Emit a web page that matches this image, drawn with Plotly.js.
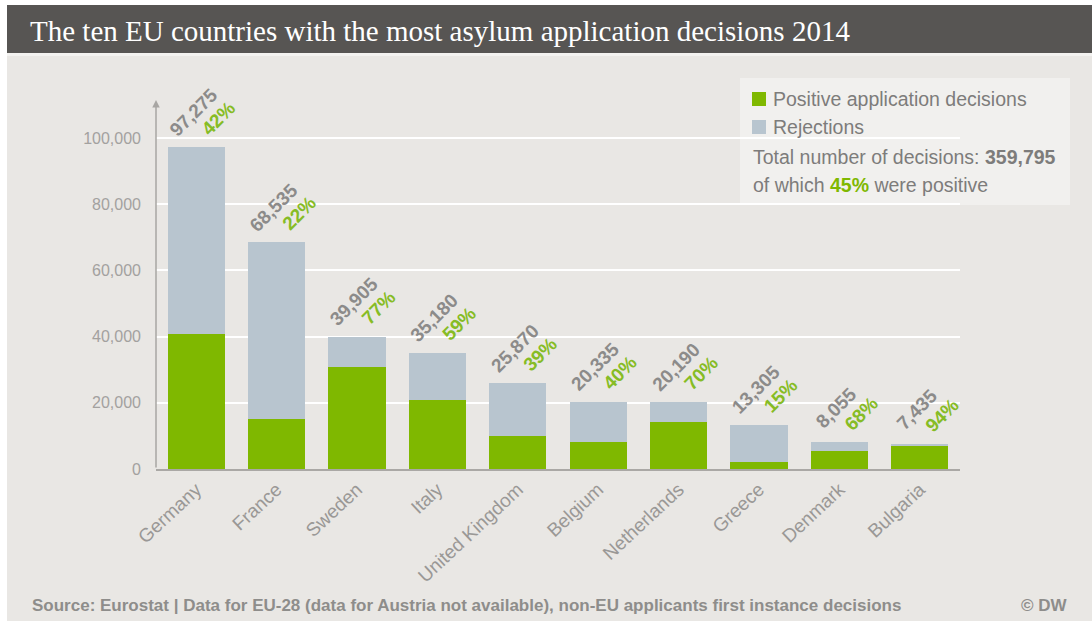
<!DOCTYPE html>
<html>
<head>
<meta charset="utf-8">
<script src="https://cdn.plot.ly/plotly-3.0.1.min.js"></script>
<style>html,body{margin:0;padding:0;background:#fff;}#chart{width:1092px;height:629px;}</style>
</head>
<body>
<div id="chart"></div>
<script>
// ---- data ----
const countries = ["Germany","France","Sweden","Italy","United Kingdom","Belgium","Netherlands","Greece","Denmark","Bulgaria"];
const positive  = [40855, 15080, 30725, 20755, 10090, 8135, 14135, 1995, 5475, 6990];
const rejected  = [56420, 53455, 9180, 14425, 15780, 12200, 6055, 11310, 2580, 445];
const totalLabels = ["97,275","68,535","39,905","35,180","25,870","20,335","20,190","13,305","8,055","7,435"];
const shareLabels = ["42%","22%","77%","59%","39%","40%","70%","15%","68%","94%"];
const totals = [97275, 68535, 39905, 35180, 25870, 20335, 20190, 13305, 8055, 7435];
const yTicks = [0, 20000, 40000, 60000, 80000, 100000];
const seriesNames = ["Positive application decisions", "Rejections"];
const totalDecisions = "359,795";
const totalShare = "45%";

// ---- geometry ----
const W = 1092, H = 629;
const L = 156, R = 132, T = 100, B = 160;
const pw = W - L - R, ph = H - T - B;
const px = x => (x - L) / pw;           // pixel -> paper x
const py = y => (H - B - y) / ph;       // pixel -> paper y

const GREEN = "#7fb800", GREY_BAR = "#b8c5cf", BG = "#e9e7e4";
const FONT = "Liberation Sans, Arial, sans-serif";

const traces = [
  {type: "bar", x: countries, y: positive, name: seriesNames[0], marker: {color: GREEN}, hoverinfo: "x+y+name"},
  {type: "bar", x: countries, y: rejected, name: seriesNames[1], marker: {color: GREY_BAR}, hoverinfo: "x+y+name"}
];

const annotations = [];
countries.forEach((c, i) => {
  annotations.push({
    x: c, y: totals[i], xref: "x", yref: "y",
    text: "<b>" + totalLabels[i] + "</b>",
    showarrow: false, textangle: -45,
    xanchor: "center", yanchor: "middle", xshift: -3, yshift: 35,
    font: {family: FONT, size: 19, color: "#8c8b8a"}
  });
  annotations.push({
    x: c, y: totals[i], xref: "x", yref: "y",
    text: "<b>" + shareLabels[i] + "</b>",
    showarrow: false, textangle: -45,
    xanchor: "center", yanchor: "middle", xshift: 22, yshift: 29,
    font: {family: FONT, size: 19, color: "#86bc25"}
  });
});

// y axis line with arrow
annotations.push({
  x: 0, y: 1, xref: "paper", yref: "paper", text: "", showarrow: true,
  arrowhead: 2, arrowsize: 1, arrowwidth: 1.5, arrowcolor: "#a8a6a3",
  ax: 0, ay: ph, axref: "pixel", ayref: "pixel"
});

// legend (manual)
const LEGFONT = {family: FONT, size: 19.5, color: "#7d7c7b"};
annotations.push({x: px(771), y: py(99), xref: "paper", yref: "paper", xanchor: "left", yanchor: "middle", showarrow: false,
  text: seriesNames[0], font: LEGFONT});
annotations.push({x: px(771), y: py(127), xref: "paper", yref: "paper", xanchor: "left", yanchor: "middle", showarrow: false,
  text: seriesNames[1], font: LEGFONT});
annotations.push({x: px(751), y: py(157), xref: "paper", yref: "paper", xanchor: "left", yanchor: "middle", showarrow: false,
  text: "Total number of decisions: <b>" + totalDecisions + "</b>", font: LEGFONT});
annotations.push({x: px(751), y: py(185), xref: "paper", yref: "paper", xanchor: "left", yanchor: "middle", showarrow: false,
  text: "of which <b><span style='color:#7fb800'>" + totalShare + "</span></b> were positive", font: LEGFONT});

// footer
annotations.push({x: px(30), y: py(605), xref: "paper", yref: "paper", xanchor: "left", yanchor: "middle", showarrow: false,
  text: "<b>Source: Eurostat | Data for EU-28 (data for Austria not available), non-EU applicants first instance decisions</b>",
  font: {family: FONT, size: 17, color: "#8e8d8b"}});
annotations.push({x: px(1070), y: py(605), xref: "paper", yref: "paper", xanchor: "right", yanchor: "middle", showarrow: false,
  text: "<b>© DW</b>", font: {family: FONT, size: 17, color: "#8e8d8b"}});

const shapes = [
  // white page borders
  {type: "rect", xref: "paper", yref: "paper", x0: px(0), x1: px(7), y0: py(629), y1: py(0), fillcolor: "#ffffff", line: {width: 0}, layer: "below"},
  {type: "rect", xref: "paper", yref: "paper", x0: px(0), x1: px(1092), y0: py(5), y1: py(0), fillcolor: "#ffffff", line: {width: 0}, layer: "below"},
  {type: "rect", xref: "paper", yref: "paper", x0: px(0), x1: px(1092), y0: py(629), y1: py(621), fillcolor: "#ffffff", line: {width: 0}, layer: "below"},
  // title bar
  {type: "rect", xref: "paper", yref: "paper", x0: px(7), x1: px(1092), y0: py(53), y1: py(5), fillcolor: "#575553", line: {width: 0}, layer: "below"},
  {type: "rect", xref: "paper", yref: "paper", x0: px(7), x1: px(1092), y0: py(56), y1: py(53), fillcolor: "#f3f2f0", line: {width: 0}, layer: "below"},
  // legend box
  {type: "rect", xref: "paper", yref: "paper", x0: px(740), x1: px(1070), y0: py(205), y1: py(78), fillcolor: "#f1f0ee", line: {width: 0}, layer: "below"},
  // legend swatches
  {type: "rect", xref: "paper", yref: "paper", x0: px(752), x1: px(766), y0: py(106), y1: py(92), fillcolor: GREEN, line: {width: 0}},
  {type: "rect", xref: "paper", yref: "paper", x0: px(752), x1: px(766), y0: py(134), y1: py(120), fillcolor: GREY_BAR, line: {width: 0}}
];

const layout = {
  width: W, height: H,
  margin: {l: L, r: R, t: T, b: B},
  paper_bgcolor: BG, plot_bgcolor: "rgba(0,0,0,0)",
  barmode: "stack", bargap: 0.29,
  showlegend: false,
  title: {text: "The ten EU countries with the most asylum application decisions 2014",
    x: 30 / W, xanchor: "left", xref: "container", y: 1 - 31 / H, yanchor: "middle", yref: "container",
    font: {family: "Liberation Serif, DejaVu Serif, serif", size: 29, color: "#ffffff"}},
  xaxis: {
    type: "category", tickangle: -43, showline: true, linecolor: "#aaa8a5", linewidth: 2,
    ticks: "", tickfont: {family: FONT, size: 19, color: "#9a9896"}, showgrid: false, zeroline: false,
    range: [-0.5, 9.5]
  },
  yaxis: {
    range: [0, 111480], tickvals: yTicks, tickformat: ",d", showgrid: true, gridcolor: "#ffffff", gridwidth: 2,
    zeroline: false, showline: false, ticks: "", ticklabelstandoff: 14,
    tickfont: {family: FONT, size: 16, color: "#a3a19f"}
  },
  annotations: annotations,
  shapes: shapes
};

Plotly.newPlot("chart", traces, layout, {displayModeBar: false});
</script>
</body>
</html>
